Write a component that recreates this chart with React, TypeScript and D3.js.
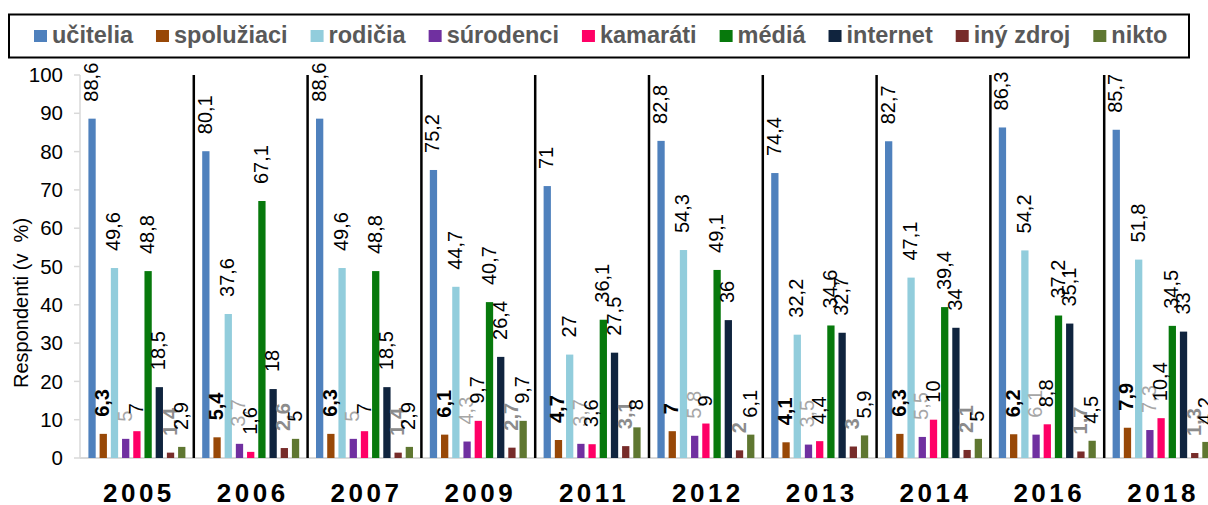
import React from "react";
import * as d3 from "d3";

const years = ["2005", "2006", "2007", "2009", "2011", "2012", "2013", "2014", "2016", "2018"];
const seriesNames = ["učitelia", "spolužiaci", "rodičia", "súrodenci", "kamaráti", "médiá", "internet", "iný zdroj", "nikto"];
const ucitelia = [88.6, 80.1, 88.6, 75.2, 71, 82.8, 74.4, 82.7, 86.3, 85.7];
const spoluziaci = [6.3, 5.4, 6.3, 6.1, 4.7, 7, 4.1, 6.3, 6.2, 7.9];
const rodicia = [49.6, 37.6, 49.6, 44.7, 27, 54.3, 32.2, 47.1, 54.2, 51.8];
const surodenci = [5, 3.7, 5, 4.3, 3.7, 5.8, 3.5, 5.5, 6.1, 7.3];
const kamarati = [7, 1.6, 7, 9.7, 3.6, 9, 4.4, 10, 8.8, 10.4];
const media = [48.8, 67.1, 48.8, 40.7, 36.1, 49.1, 34.6, 39.4, 37.2, 34.5];
const internet = [18.5, 18, 18.5, 26.4, 27.5, 36, 32.7, 34, 35.1, 33];
const inyZdroj = [1.4, 2.6, 1.4, 2.7, 3.1, 2, 3, 2.1, 1.7, 1.3];
const nikto = [2.9, 5, 2.9, 9.7, 8, 6.1, 5.9, 5, 4.5, 4.2];
const seriesValues = [ucitelia, spoluziaci, rodicia, surodenci, kamarati, media, internet, inyZdroj, nikto];
const colors = ["#4F81BD", "#984807", "#92CDDC", "#7030A0", "#FF0066", "#07790C", "#10243E", "#772C2A", "#5F7731"];
const labelFill = ["#000", "#000", "#000", "#a6a6a6", "#000", "#000", "#000", "#8c8c8c", "#000"];
const labelWeight = ["normal", "bold", "normal", "normal", "normal", "normal", "normal", "bold", "normal"];
const yTicks = [0, 10, 20, 30, 40, 50, 60, 70, 80, 90, 100];

const W = 1208;
const H = 505;
const FONT = "'Liberation Sans', Arial, sans-serif";

function measure(text: string, font: string): number {
  const c = document.createElement("canvas");
  const ctx = c.getContext("2d");
  if (!ctx) return text.length * 12;
  ctx.font = font;
  return ctx.measureText(text).width;
}

export default function App() {
  const x0 = d3.scaleBand<string>().domain(years).range([80, 1218]).padding(0);
  const x1 = d3
    .scaleBand<string>()
    .domain(seriesNames)
    .range([0, x0.bandwidth()])
    .paddingInner(0.35)
    .paddingOuter(0.75);
  const y = d3.scaleLinear().domain([0, 100]).range([458, 75]);

  const legendFont = `bold 23.5px ${FONT}`;
  let lx = 34;
  const legendItems = seriesNames.map((name, i) => {
    const w = measure(name, legendFont);
    const item = { name, x: lx, color: colors[i], w };
    lx += 13 + 5 + w + 23;
    return item;
  });

  const fmt = (v: number) => String(v).replace(".", ",");

  return (
    <svg
      width={W}
      height={H}
      style={{ position: "absolute", left: 0, top: 0, background: "#fff" }}
      fontFamily={FONT}
    >
      <rect x={0} y={0} width={W} height={H} fill="#fff" />
      {/* legend */}
      <rect x={9} y={14.5} width={1180} height={43} fill="#fff" stroke="#000" strokeWidth={2} />
      {legendItems.map((it) => (
        <g key={it.name}>
          <rect x={it.x} y={30} width={13} height={12} fill={it.color} />
          <text x={it.x + 18} y={43} fontSize={23.5} fontWeight="bold" fill="#595959">
            {it.name}
          </text>
        </g>
      ))}
      {/* y axis */}
      <line x1={80} x2={80} y1={y(100)} y2={y(0)} stroke="#d9d9d9" strokeWidth={1.5} />
      {yTicks.map((t) => (
        <g key={t}>
          <line x1={74} x2={80} y1={y(t)} y2={y(t)} stroke="#d9d9d9" strokeWidth={1.5} />
          <text x={63} y={y(t)} dy="0.35em" textAnchor="end" fontSize={20.5} fill="#000">
            {t}
          </text>
        </g>
      ))}
      <text
        transform={`translate(28,303) rotate(-90)`}
        textAnchor="middle"
        fontSize={20}
        fill="#000"
        style={{ whiteSpace: "pre" }}
      >
        {"Respondenti (v  %)"}
      </text>
      {/* x axis */}
      <line x1={80} x2={W} y1={y(0)} y2={y(0)} stroke="#d9d9d9" strokeWidth={2} />
      {/* separators */}
      {years.slice(1).map((yr) => (
        <line
          key={"sep" + yr}
          x1={x0(yr)}
          x2={x0(yr)}
          y1={y(100)}
          y2={y(0)}
          stroke="#000"
          strokeWidth={2.5}
        />
      ))}
      {/* bars */}
      {years.map((yr, gi) => (
        <g key={yr} transform={`translate(${x0(yr)},0)`}>
          {seriesNames.map((s, si) => {
            const v = seriesValues[si][gi];
            return (
              <rect
                key={s}
                x={x1(s)}
                y={y(v)}
                width={x1.bandwidth()}
                height={y(0) - y(v)}
                fill={colors[si]}
              />
            );
          })}
        </g>
      ))}
      {/* labels */}
      {years.map((yr, gi) => (
        <g key={"l" + yr} transform={`translate(${x0(yr)},0)`}>
          {seriesNames.map((s, si) => {
            const v = seriesValues[si][gi];
            const cx = (x1(s) as number) + x1.bandwidth() / 2;
            return (
              <text
                key={s}
                transform={`translate(${cx},${y(v) - 17}) rotate(-90)`}
                dy="0.3em"
                fontSize={20}
                fontWeight={labelWeight[si]}
                fill={labelFill[si]}
              >
                {fmt(v)}
              </text>
            );
          })}
        </g>
      ))}
      {/* year labels */}
      {years.map((yr) => (
        <text
          key={"y" + yr}
          x={(x0(yr) as number) + x0.bandwidth() / 2 + 2}
          y={502}
          textAnchor="middle"
          fontSize={26}
          fontWeight="bold"
          letterSpacing={3.5}
          fill="#000"
        >
          {yr}
        </text>
      ))}
    </svg>
  );
}
